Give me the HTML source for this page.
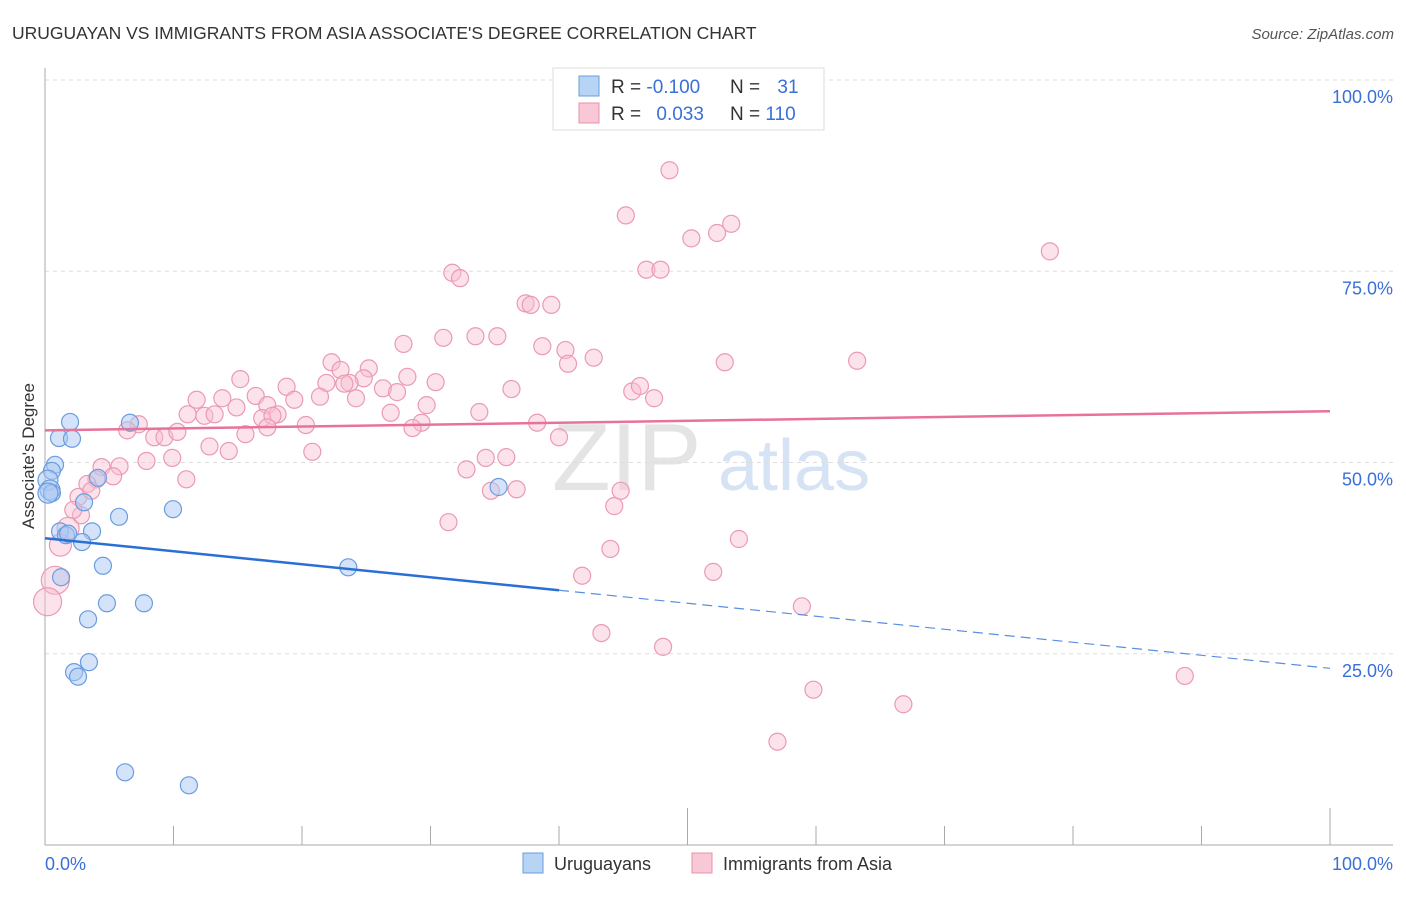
<!DOCTYPE html>
<html><head><meta charset="utf-8"><style>
body{margin:0;background:#fff;font-family:"Liberation Sans",sans-serif}
svg text{font-family:"Liberation Sans",sans-serif}
</style></head><body>
<svg id="chart" width="1406" height="892" viewBox="0 0 1406 892" xmlns="http://www.w3.org/2000/svg">
<text x="12" y="39" font-size="17.5" fill="#333">URUGUAYAN VS IMMIGRANTS FROM ASIA ASSOCIATE'S DEGREE CORRELATION CHART</text>
<text x="1394" y="39" font-size="15" fill="#555" font-style="italic" text-anchor="end">Source: ZipAtlas.com</text>
<g>
<text x="552" y="490" font-size="96" fill="#e4e4e4" font-family="Liberation Serif">ZIP</text>
<text x="718" y="490" font-size="72" fill="#d5e3f5">atlas</text>
</g>
<g id="grid"></g>
<g id="axes"></g>
<g id="marks"></g>
<g id="trends"></g>
<g>
<rect x="553" y="68" width="271" height="62" fill="#fff" stroke="#ddd"/>
<rect x="579" y="76" width="20" height="20" fill="#b8d4f5" stroke="#6a9de0"/>
<rect x="579" y="103" width="20" height="20" fill="#f8c8d6" stroke="#e890ab"/>
<text x="611" y="93" font-size="19" fill="#333">R = <tspan fill="#3a6fd8">-0.100</tspan></text>
<text x="730" y="93" font-size="19" fill="#333">N = <tspan fill="#3a6fd8" dx="12">31</tspan></text>
<text x="611" y="120" font-size="19" fill="#333">R = <tspan fill="#3a6fd8" dx="10">0.033</tspan></text>
<text x="730" y="120" font-size="19" fill="#333">N = <tspan fill="#3a6fd8">110</tspan></text>
</g>
<g>
<rect x="523" y="853" width="20" height="20" fill="#b8d4f5" stroke="#6a9de0"/>
<text x="554" y="870" font-size="18" fill="#333">Uruguayans</text>
<rect x="692" y="853" width="20" height="20" fill="#f8c8d6" stroke="#e890ab"/>
<text x="723" y="870" font-size="18" fill="#333">Immigrants from Asia</text>
</g>
<text transform="translate(34,456) rotate(-90)" font-size="17" fill="#333" text-anchor="middle">Associate's Degree</text>
</svg>
<script>
const blueX=[1.95,1.09,2.1,0.78,0.54,0.23,0.39,0.54,3.04,4.12,6.61,5.76,9.96,1.17,1.63,3.66,2.88,4.51,1.25,4.82,7.7,3.35,3.42,2.26,2.57,23.6,35.3,6.23,11.2,0.23,1.8];
const blueY=[55.3,53.2,53.1,49.7,48.9,47.7,46.4,46.0,44.8,48.0,55.2,42.9,43.9,41.0,40.5,41.0,39.6,36.5,35.0,31.6,31.6,29.5,23.9,22.6,22.0,36.3,46.8,9.5,7.8,46.0,40.7];
const pinkX=[48.6,45.2,53.4,52.3,50.3,78.2,31.7,32.3,46.8,47.9,37.4,37.8,39.4,31.0,33.5,35.2,27.9,38.7,40.5,42.7,40.7,52.9,63.2,22.3,25.2,23.0,15.2,24.8,30.4,28.2,21.9,18.8,26.3,23.7,23.3,36.3,45.7,46.3,47.4,13.8,16.4,11.8,21.4,19.4,27.4,24.2,17.3,14.9,12.4,11.1,13.2,29.7,33.8,26.9,18.1,16.9,17.7,20.3,29.3,28.6,38.3,7.3,6.4,15.6,8.5,9.3,10.3,40.0,17.3,12.8,14.3,20.8,34.3,35.9,7.9,9.9,4.4,5.8,32.8,11.0,5.3,4.0,3.3,2.6,3.6,44.8,34.7,36.7,2.8,2.2,44.3,31.4,1.8,1.2,54.0,44.0,41.8,52.0,0.8,0.2,58.9,43.3,48.1,88.7,59.8,66.8,57.0];
const pinkY=[88.2,82.3,81.2,80.0,79.3,77.6,74.8,74.1,75.2,75.2,70.8,70.6,70.6,66.3,66.5,66.5,65.5,65.2,64.7,63.7,62.9,63.1,63.3,63.1,62.3,62.1,60.9,61.0,60.5,61.2,60.4,59.9,59.7,60.4,60.3,59.6,59.3,60.0,58.4,58.4,58.7,58.2,58.6,58.2,59.2,58.4,57.5,57.2,56.1,56.3,56.3,57.5,56.6,56.5,56.3,55.8,56.1,54.9,55.2,54.5,55.2,55.0,54.2,53.7,53.3,53.3,54.0,53.3,54.6,52.1,51.5,51.4,50.6,50.7,50.2,50.6,49.4,49.5,49.1,47.8,48.2,47.8,47.2,45.5,46.3,46.3,46.3,46.5,43.1,43.8,44.3,42.2,41.4,39.2,40.0,38.7,35.2,35.7,34.6,31.8,31.2,27.7,25.9,22.1,20.3,18.4,13.5];
const pinkWeight=[];
const yTicks=[25,50,75,100];
const yTickLabels=["25.0%","50.0%","75.0%","100.0%"];
const xTicks=[0,10,20,30,40,50,60,70,80,90,100];
const xTickLabels=["0.0%","100.0%"];
const blueTrend=[40.1,23.1];
const pinkTrend=[54.2,56.7];
const blueSolidEnd=40;

const NS="http://www.w3.org/2000/svg";
const X=v=>45+v*12.85, Y=v=>845-v*7.65;
function mk(tag,attrs,parent){const e=document.createElementNS(NS,tag);for(const k in attrs)e.setAttribute(k,attrs[k]);document.getElementById(parent).appendChild(e);return e;}
yTicks.forEach((t,i)=>{
 const g=mk('line',{x1:45,x2:1393,y1:Y(t),y2:Y(t),stroke:'#ddd','stroke-dasharray':'4,4'},'grid');
 
 
 const l=mk('text',{x:1393,y:Y(t)+23,'font-size':18,fill:'#3a6fd8','text-anchor':'end'},'grid');
 l.textContent=yTickLabels[i];
 
 
});
const ax=mk('line',{x1:45,x2:1393,y1:845,y2:845,stroke:'#aaa'},'axes');


const ay=mk('line',{x1:45,x2:45,y1:68,y2:845,stroke:'#aaa'},'axes');


xTicks.forEach(t=>{
 const major=(t===50||t===100);
 const tk=mk('line',{x1:X(t),x2:X(t),y1:major?808:826,y2:845,stroke:'#aaa'},'axes');
 
 
});
[[0,'start',45],[100,'end',1393]].forEach((a,i)=>{
 const l=mk('text',{x:a[2],y:870,'font-size':18,fill:'#3a6fd8','text-anchor':a[1]},'axes');
 l.textContent=xTickLabels[i];
 
 
});
function rad(x){return x<1?14:x<2?11:8.5;}
pinkX.forEach((x,i)=>{
 const c=mk('circle',{cx:X(x),cy:Y(pinkY[i]),r:rad(x),fill:'rgba(248,190,208,0.45)',stroke:'#eb9ab4','stroke-width':1.2},'marks');
 
 
});
blueX.forEach((x,i)=>{
 const c=mk('circle',{cx:X(x),cy:Y(blueY[i]),r:x<0.5?10:8.5,fill:'rgba(170,200,243,0.5)',stroke:'#6a9de0','stroke-width':1.2},'marks');
 
 
});
const bAt=x=>blueTrend[0]+(blueTrend[1]-blueTrend[0])*x/100;
const b1=mk('line',{x1:X(0),y1:Y(bAt(0)),x2:X(blueSolidEnd),y2:Y(bAt(blueSolidEnd)),stroke:'#2a6fd6','stroke-width':2.5},'trends');


const b2=mk('line',{x1:X(blueSolidEnd),y1:Y(bAt(blueSolidEnd)),x2:X(100),y2:Y(bAt(100)),stroke:'#5a8ee0','stroke-width':1.2,'stroke-dasharray':'10,6'},'trends');


const p1=mk('line',{x1:X(0),y1:Y(pinkTrend[0]),x2:X(100),y2:Y(pinkTrend[1]),stroke:'#e8739a','stroke-width':2.5},'trends');


</script>
</body></html>
